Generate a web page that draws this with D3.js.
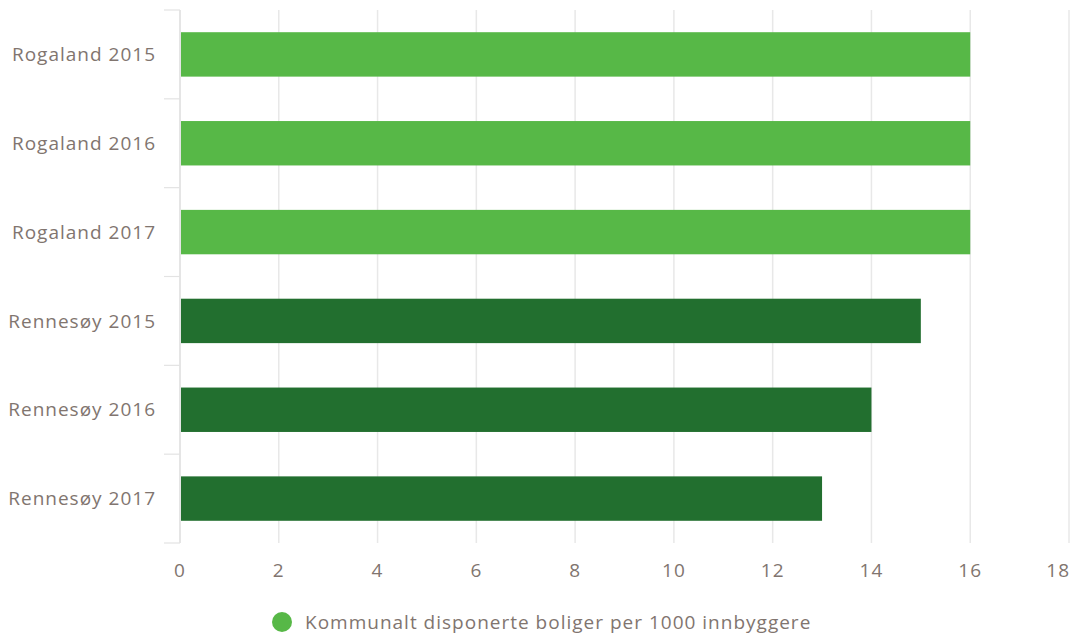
<!DOCTYPE html>
<html><head><meta charset="utf-8">
<script src="https://cdn.jsdelivr.net/npm/d3@7"></script>
<style>body{margin:0;background:#fff;} text{font-family:"Open Sans",sans-serif;fill:#81756f;letter-spacing:1px;}</style>
</head><body><svg id="c" width="1074" height="639"></svg>
<script>
const categories = ["Rogaland 2015","Rogaland 2016","Rogaland 2017","Rennesøy 2015","Rennesøy 2016","Rennesøy 2017"];
const values = [16,16,16,15,14,13];
const regions = ["Rogaland","Rogaland","Rogaland","Rennesøy","Rennesøy","Rennesøy"];
const xTicks = [0,2,4,6,8,10,12,14,16,18];
const seriesName = "Kommunalt disponerte boliger per 1000 innbyggere";
const colors = {"Rogaland":"#57b847","Rennesøy":"#226f2f"};

const svg = d3.select("#c");
const m = {l:180, r:5, t:10, b:96};
const W = 1074, H = 639;
const x = d3.scaleLinear().domain([0,18]).range([m.l, W-m.r]);
const y = d3.scaleBand().domain(categories).range([m.t, H-m.b]).paddingInner(0.5).paddingOuter(0.25);

// grid
svg.append("g").selectAll("line").data(xTicks).join("line")
  .attr("x1",d=>x(d)).attr("x2",d=>x(d)).attr("y1",m.t).attr("y2",H-m.b)
  .attr("stroke",d=>d===0?"#dcdcdc":"#e8e8e8").attr("stroke-width",1.5);

// y axis category ticks
const bounds = d3.range(categories.length+1).map(i=>m.t + i*(H-m.b-m.t)/categories.length);
svg.append("g").selectAll("line").data(bounds).join("line")
  .attr("x1",m.l-16).attr("x2",m.l).attr("y1",d=>d).attr("y2",d=>d)
  .attr("stroke","#e3e3e3").attr("stroke-width",1.2);

// bars
svg.append("g").selectAll("rect").data(categories).join("rect")
  .attr("x",x(0)+1).attr("y",d=>y(d)).attr("height",y.bandwidth())
  .attr("width",(d,i)=>x(values[i])-x(0)-1)
  .attr("fill",(d,i)=>colors[regions[i]]);

// y labels
svg.append("g").selectAll("text").data(categories).join("text")
  .attr("x",m.l-24).attr("y",d=>y(d)+y.bandwidth()/2).attr("dy","0.35em")
  .attr("text-anchor","end").attr("font-size",19).text(d=>d);

// x labels
svg.append("g").selectAll("text").data(xTicks).join("text")
  .attr("x",(d,i)=>i===xTicks.length-1 ? W-4 : x(d))
  .attr("y",577)
  .attr("text-anchor",(d,i)=>i===xTicks.length-1 ? "end" : "middle")
  .attr("font-size",19).text(d=>d);

// legend
svg.append("circle").attr("cx",282).attr("cy",622).attr("r",10).attr("fill",colors["Rogaland"]);
svg.append("text").attr("x",305).attr("y",629).attr("font-size",19).text(seriesName);
</script></body></html>
